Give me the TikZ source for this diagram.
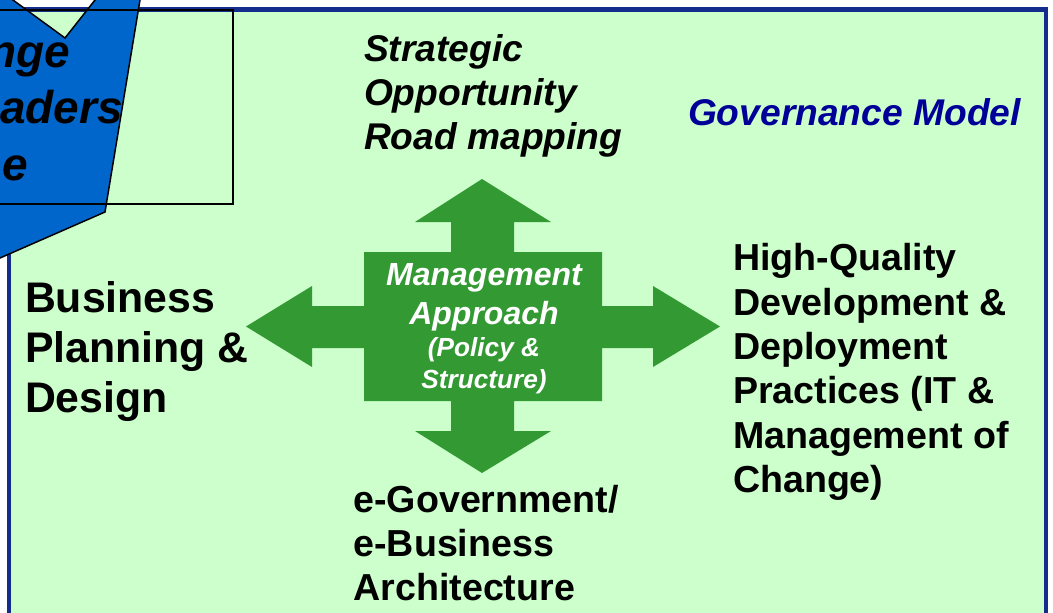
\documentclass[tikz,border=0pt]{standalone}
\usepackage{fontspec}
\setmainfont{Liberation Sans}
\definecolor{bggreen}{HTML}{CCFFCC}
\definecolor{navyline}{RGB}{20,45,140}
\definecolor{crossgreen}{HTML}{339933}
\definecolor{shapeblue}{HTML}{0066CC}
\definecolor{govblue}{HTML}{000099}
\begin{document}
\begin{tikzpicture}[x=1pt,y=-1pt,
  txt/.style={inner sep=0pt, outer sep=0pt, anchor=base west},
  txtr/.style={inner sep=0pt, outer sep=0pt, anchor=base east},
  txtc/.style={inner sep=0pt, outer sep=0pt, anchor=base},
  bigbi/.style={font=\fontsize{37.2}{44}\selectfont\bfseries\itshape},
  bigb/.style={font=\fontsize{37.6}{44}\selectfont\bfseries},
  hugeb/.style={font=\fontsize{42.8}{50}\selectfont\bfseries},
  leftbi/.style={font=\fontsize{46}{56}\selectfont\bfseries\itshape},
  midbi/.style={font=\fontsize{32}{39}\selectfont\bfseries\itshape, text=white},
  smallbi/.style={font=\fontsize{26.2}{32}\selectfont\bfseries\itshape, text=white}]
\useasboundingbox (0,0) rectangle (1053,613);
\begin{scope}
\clip (0,0) rectangle (1053,613);
\fill[white] (0,0) rectangle (1053,613);
\draw[line width=4.5pt, draw=navyline, fill=bggreen] (9,9.5) rectangle (1046,660);
\draw[line width=1.5pt, fill=shapeblue] (-14.4,-20) -- (65,38) -- (110.8,-20) -- (143.3,-20) -- (105,212) -- (0,258) -- (-20,266.8) -- (-20,-20) -- cycle;
\draw[line width=2.5pt] (-10,10) rectangle (233,204);
\end{scope}
% left cut-off text
\node[txtr, leftbi] (l1) at (70.5,67) {nge};
\node[txtr, leftbi] (l2) at (123,123) {aders};
\node[txtr, leftbi] (l3) at (28.5,180) {e};
% green cross arrow
\fill[crossgreen] (482,179) -- (551,222) -- (514,222) -- (514,252) -- (602,252) -- (602,306) -- (653,306) -- (653,286) -- (720,326.5) -- (653,367) -- (653,348) -- (602,348) -- (602,401) -- (514,401) -- (514,431) -- (551,431) -- (482,473) -- (415,431) -- (451,431) -- (451,401) -- (364,401) -- (364,348) -- (312,348) -- (312,367) -- (246,326.5) -- (312,286) -- (312,306) -- (364,306) -- (364,252) -- (451,252) -- (451,222) -- (415,222) -- cycle;
\node[txtc, midbi] (m1) at (484,285) {Management};
\node[txtc, midbi] (m2) at (484,324) {Approach};
\node[txtc, smallbi] (m3) at (484,356) {(Policy \&};
\node[txtc, smallbi] (m4) at (484,388) {Structure)};
% top text
\node[txt, bigbi] (s1) at (364,61.5) {Strategic};
\node[txt, bigbi] (s2) at (364,105.5) {Opportunity};
\node[txt, bigbi] (s3) at (364,149.5) {Road mapping};
% governance model
\node[txt, bigbi, text=govblue] (g) at (688,125.5) {Governance Model};
% left text
\node[txt, hugeb] (b1) at (25,312) {Business};
\node[txt, hugeb] (b2) at (25,362) {Planning \&};
\node[txt, hugeb] (b3) at (25,412) {Design};
% right text
\node[txt, bigb] (r1) at (733,270.5) {High-Quality};
\node[txt, bigb] (r2) at (733,315) {Development \&};
\node[txt, bigb] (r3) at (733,359) {Deployment};
\node[txt, bigb] (r4) at (733,403.5) {Practices (IT \&};
\node[txt, bigb] (r5) at (733,448) {Management of};
\node[txt, bigb] (r6) at (733,492.5) {Change)};
% bottom text
\node[txt, bigb] (e1) at (353.5,512.5) {e-Government/};
\node[txt, bigb] (e2) at (353.5,556.5) {e-Business};
\node[txt, bigb] (e3) at (353.5,600.5) {Architecture};
\end{tikzpicture}
\end{document}
